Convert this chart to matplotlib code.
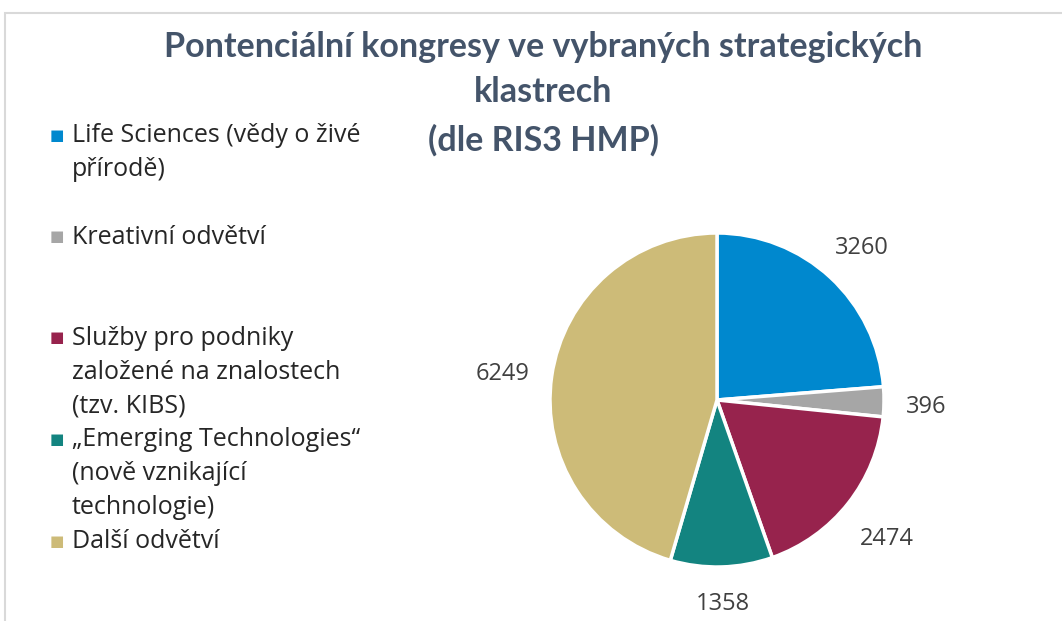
import numpy as np
import matplotlib.pyplot as plt
from matplotlib.patches import Rectangle

# Data
categories = ['Life Sciences (vědy o živé\npřírodě)',
              'Kreativní odvětví',
              'Služby pro podniky\nzaložené na znalostech\n(tzv. KIBS)',
              '„Emerging Technologies“\n(nově vznikající\ntechnologie)',
              'Další odvětví']
values = [3260, 396, 2474, 1358, 6249]
colors = ['#0088CE', '#A6A6A6', '#97234D', '#138480', '#CDBB78']

title_lines = ['Pontenciální kongresy ve vybraných strategických',
               'klastrech',
               '(dle RIS3 HMP)']

W, H = 1062, 621
fig = plt.figure(figsize=(W / 100, H / 100), dpi=100)

# light chart frame
fig.patches.append(Rectangle((5 / W, -0.1), 1.2, 1.1 - 13 / H, transform=fig.transFigure,
                             fill=False, edgecolor='#D9D9D9', linewidth=1.5))

# title, one text per line
for ty, line in zip([47, 92, 140], title_lines):
    fig.text(543 / W, 1 - ty / H, line, ha='center', va='center', fontsize=24.5,
             fontweight='bold', family='Lato', color='#44546A')

# pie
cx, cy, r = 717, 400, 167
ax = fig.add_axes([(cx - r) / W, (H - cy - r) / H, 2 * r / W, 2 * r / H])
wedges, texts = ax.pie(values, colors=colors, startangle=90, counterclock=False,
                       labels=[str(v) for v in values], labeldistance=1.25,
                       wedgeprops=dict(edgecolor='white', linewidth=2.5),
                       textprops=dict(fontsize=17, color='#404040', family='Open Sans'))
ax.set_xlim(-1, 1)
ax.set_ylim(-1, 1)

# place data labels just outside the pie, like Excel's outside-end labels
fig.canvas.draw()
renderer = fig.canvas.get_renderer()
for t, w in zip(texts, wedges):
    theta = np.deg2rad((w.theta1 + w.theta2) / 2)
    ux, uy = np.cos(theta), np.sin(theta)
    bb = t.get_window_extent(renderer)
    ext = (abs(ux) * bb.width / 2 + abs(uy) * bb.height * 0.4) / r
    d = 1.13 + ext
    t.set_position((d * ux, d * uy - 0.03))
    t.set_ha('center')
    t.set_va('center')

# legend
for i, (lab, c) in enumerate(zip(categories, colors)):
    y = 135 + i * 101.5
    fig.text(57 / W, 1 - y / H, '■', ha='center', va='center', fontsize=11,
             color=c, family='DejaVu Sans')
    fig.text(72 / W, 1 - (y - 12) / H, lab, ha='left', va='top', fontsize=18,
             color='#262626', family='Open Sans', linespacing=1.45)

fig.savefig('out.png', dpi=100)
